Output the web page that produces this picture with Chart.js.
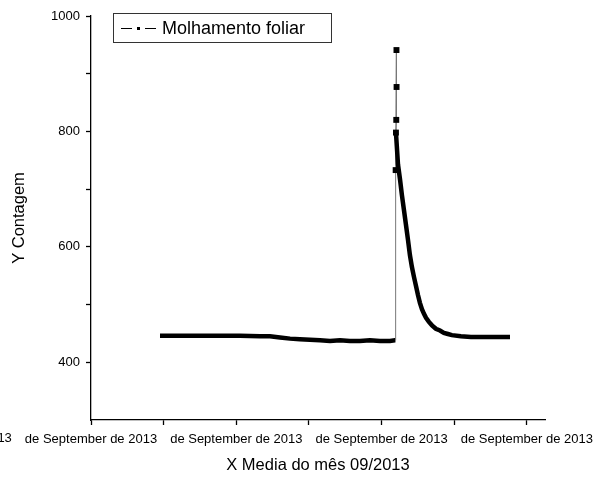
<!DOCTYPE html>
<html>
<head>
<meta charset="utf-8">
<script src="https://cdn.jsdelivr.net/npm/chart.js@4"></script>
<style>
  body { margin: 0; background: #fff; }
  #wrap { width: 611px; height: 481px; }
</style>
</head>
<body>
<div id="wrap"><canvas id="wetChart" width="611" height="481"></canvas></div>
<script>
// data (x in tick units, y = contagem)
const timeValues = [
  0.475, 0.613, 0.750, 0.888, 1.025, 1.163, 1.232, 1.301, 1.370, 1.438,
  1.507, 1.576, 1.645, 1.714, 1.782, 1.851, 1.920, 1.989, 2.058, 2.092,
  2.0957, 2.097, 2.1026, 2.1033, 2.1012, 2.099,
  2.113, 2.127, 2.140, 2.154, 2.168, 2.182, 2.195, 2.209, 2.223, 2.237,
  2.251, 2.264, 2.278, 2.292, 2.306, 2.326, 2.347, 2.374, 2.402, 2.429,
  2.457, 2.484, 2.546, 2.615, 2.684, 2.753, 2.884
];
const countValues = [
  446, 446, 446, 446, 446, 445, 445, 443, 441, 440,
  439, 438, 437, 438, 437, 437, 438, 437, 437, 438,
  438, 733, 941, 877, 820, 798,
  743, 717, 690, 664, 638, 612, 586, 565, 548, 532,
  516, 503, 492, 484, 477, 470, 464, 458, 455, 451,
  449, 447, 445, 444, 444, 444, 444
];
const spikeStart = 20;   // first point of the thin vertical spike
const spikeEnd = 25;     // last point of the spike

const xTickLabels = ['de September de 2013', 'de September de 2013', 'de September de 2013', 'de September de 2013'];
const offAxisLabel = 'de September de 2013';
const yTickLabels = [400, 600, 800, 1000];

const seriesName = 'Molhamento foliar';
const FONT = "'Liberation Sans', Arial, sans-serif";

const points = timeValues.map((t, i) => ({ x: t, y: countValues[i] }));
const inSpike = i => i >= spikeStart && i <= spikeEnd;

// boxed legend + clipped label left of the axis
const extras = {
  id: 'extras',
  afterDraw(chart) {
    const ctx = chart.ctx;
    const area = chart.chartArea;
    const xs = chart.scales.x;

    ctx.save();
    ctx.fillStyle = '#000';
    ctx.font = '13px ' + FONT;
    ctx.textAlign = 'center';
    ctx.textBaseline = 'top';
    ctx.fillText(offAxisLabel, xs.getPixelForValue(-1), xs.top + 5 + 7);

    const lx = area.left + 22, ly = area.top - 3;
    ctx.strokeStyle = '#333';
    ctx.lineWidth = 1;
    ctx.strokeRect(lx + 0.5, ly + 0.5, 218, 29);
    const cy = ly + 15;
    ctx.beginPath();
    ctx.moveTo(lx + 8, cy + 0.5); ctx.lineTo(lx + 19, cy + 0.5);
    ctx.moveTo(lx + 32, cy + 0.5); ctx.lineTo(lx + 43, cy + 0.5);
    ctx.strokeStyle = '#000';
    ctx.stroke();
    ctx.fillRect(lx + 24, cy - 1, 3, 3);
    ctx.font = '18px ' + FONT;
    ctx.textAlign = 'left';
    ctx.textBaseline = 'middle';
    ctx.fillText(seriesName, lx + 49, cy + 1);
    ctx.restore();
  }
};

new Chart(document.getElementById('wetChart').getContext('2d'), {
  type: 'scatter',
  data: {
    datasets: [{
      label: seriesName,
      data: points,
      showLine: true,
      borderColor: '#000',
      backgroundColor: '#000',
      borderWidth: 4.5,
      pointStyle: 'rect',
      pointRadius: ctx => inSpike(ctx.dataIndex) && ctx.dataIndex > spikeStart ? 1 : 0,
      pointHoverRadius: 0,
      segment: {
        borderWidth: ctx => (inSpike(ctx.p0DataIndex) && inSpike(ctx.p1DataIndex)) ? 1 : undefined,
        borderColor: ctx => (inSpike(ctx.p0DataIndex) && inSpike(ctx.p1DataIndex)) ? '#777' : undefined
      }
    }]
  },
  options: {
    responsive: false,
    animation: false,
    layout: { padding: { top: 16, right: 66, left: 0, bottom: 0 } },
    plugins: { legend: { display: false }, tooltip: { enabled: false } },
    scales: {
      x: {
        type: 'linear',
        min: 0,
        max: 3.125,
        border: { color: '#000', width: 1.3 },
        grid: { drawOnChartArea: false, tickLength: 5, tickColor: '#000', tickWidth: 1.3 },
        afterBuildTicks: s => { s.ticks = [0, 0.5, 1, 1.5, 2, 2.5, 3].map(v => ({ value: v })); },
        afterFit: s => { s.height = 61; },
        ticks: {
          autoSkip: false,
          maxRotation: 0,
          padding: 7,
          color: '#000',
          font: { family: FONT, size: 13 },
          callback: v => Number.isInteger(v) ? xTickLabels[v] : ''
        },
        title: {
          display: true,
          text: 'X Media do mês 09/2013',
          color: '#000',
          font: { family: FONT, size: 16.5 },
          padding: { top: 0, bottom: 6 }
        }
      },
      y: {
        min: 300,
        max: 1000,
        border: { color: '#000', width: 1.3 },
        grid: { drawOnChartArea: false, tickLength: 5, tickColor: '#000', tickWidth: 1.3 },
        afterBuildTicks: s => { s.ticks = [400, 500, 600, 700, 800, 900, 1000].map(v => ({ value: v })); },
        afterFit: s => { s.width = 91; },
        ticks: {
          padding: 6,
          color: '#000',
          font: { family: FONT, size: 13 },
          callback: v => yTickLabels.includes(v) ? String(v) : ''
        },
        title: {
          display: true,
          text: 'Y Contagem',
          color: '#000',
          font: { family: FONT, size: 16.5 },
          padding: { top: 10, bottom: 0 }
        }
      }
    }
  },
  plugins: [extras]
});
</script>
</body>
</html>
